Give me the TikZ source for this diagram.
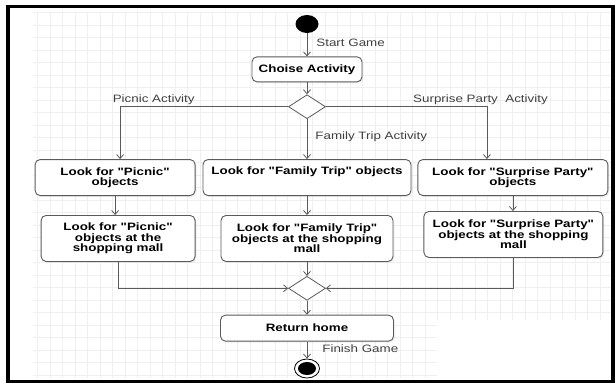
\documentclass[tikz,border=0pt]{standalone}
\usepackage{fontspec}
\setmainfont{Liberation Sans}[FakeStretch=1.25, Ligatures=TeXOff]
\usepackage{xcolor}
\definecolor{cl}{HTML}{5a5a5a}
\definecolor{cg}{HTML}{efefef}
\usetikzlibrary{arrows.meta,positioning,shapes.geometric,shadows}

\begin{document}
\begin{tikzpicture}[
  node distance=12pt and 7pt, >={Straight Barb[length=4pt,width=7pt]}, line width=0.8pt,
  font=\fontsize{10.7}{11}\selectfont,
  act/.style={rectangle, rounded corners=5pt, draw=cl, fill=white, line width=0.9pt,
    font=\fontsize{10.7}{10.5}\selectfont\bfseries, align=center, inner sep=1pt,
    drop shadow={shadow xshift=1.5pt, shadow yshift=-1.5pt, opacity=0.12}},
  dec/.style={diamond, draw=cl, fill=white, minimum width=37pt, minimum height=24pt, inner sep=0pt},
  startdot/.style={ellipse, fill=black, minimum width=23pt, minimum height=18pt, inner sep=0pt},
  enddot/.style={ellipse, draw=black, fill=white, minimum width=25pt, minimum height=19pt, inner sep=0pt},
  lbl/.style={text=black!75, inner sep=2pt},
  flow/.style={->, draw=cl},
]
  \useasboundingbox (0,0) rectangle (615pt,-385pt);
  % background grid
  \draw[cg, line width=0.4pt, step=12.5pt] (33pt,-12pt) grid (612pt,-320pt);
  \draw[cg, line width=0.4pt, step=12.5pt] (33pt,-320pt) grid (437pt,-378pt);

  \node[startdot] (start) at (307pt,-24pt) {};
  \node[act, below=23pt of start, minimum width=110pt, minimum height=25pt] (choose) {Choise Activity};
  \node[dec, below=12pt of choose] (dec1) {};

  \node[act, below=40pt of dec1, minimum width=208pt, minimum height=36pt] (fam1) {Look for "Family Trip" objects\\ \strut};
  \node[act, left=7pt of fam1, minimum width=160pt, minimum height=36pt] (pic1) {Look for "Picnic"\\objects};
  \node[act, right=6pt of fam1, minimum width=190pt, minimum height=36pt] (sur1) {Look for "Surprise Party"\\objects};

  \node[act, below=19pt of fam1, minimum width=172pt, minimum height=46pt] (fam2) {Look for "Family Trip"\\objects at the shopping\\mall};
  \node[act, left=25pt of fam2, minimum width=154pt, minimum height=46pt] (pic2) {Look for "Picnic"\\objects at the\\shopping mall};
  \node[act, right=30pt of fam2, yshift=4pt, minimum width=179pt, minimum height=46pt] (sur2) {Look for "Surprise Party"\\objects at the shopping\\mall};

  \node[dec, below=14pt of fam2] (dec2) {};
  \node[act, below=14pt of dec2, minimum width=173pt, minimum height=26pt] (ret) {Return home};
  \node[enddot, below=17pt of ret] (stop) {};
  \fill (stop.center) ellipse (9pt and 6.5pt);

  \draw[flow] (start) -- node[lbl, right=7pt, pos=0.43]{Start Game} (choose);
  \draw[flow] (choose) -- (dec1);
  \draw[flow] (dec1.west) -| node[lbl, above, pos=0.4]{Picnic Activity} ([xshift=5pt]pic1.north);
  \draw[flow] (dec1.east) -| node[lbl, above, pos=0.48]{Surprise Party\ \ Activity} ([xshift=-26pt]sur1.north);
  \draw[flow] (dec1) -- node[lbl, right=6pt, pos=0.45]{Family Trip Activity} (fam1);

  \draw[flow] (pic1.south) -- (pic1.south |- pic2.north);
  \draw[flow] (fam1) -- (fam2);
  \draw[flow] (sur1.south) -- (sur1.south |- sur2.north);

  \draw[flow] (pic2.south) |- (dec2.west);
  \draw[flow] (fam2) -- (dec2);
  \draw[flow] (sur2.south) |- (dec2.east);
  \draw[flow] (dec2) -- (ret);
  \draw[flow] (ret) -- node[lbl, right=13pt, pos=0.41]{Finish Game} (stop);

  % frame
  \draw[line width=3.5pt] (8pt,-6.5pt) rectangle (613pt,-381.5pt);
\end{tikzpicture}
\end{document}
